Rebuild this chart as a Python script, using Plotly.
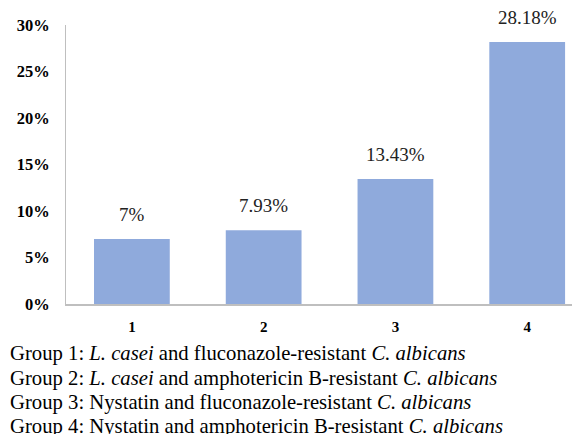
import plotly.graph_objects as go

groups = ["1", "2", "3", "4"]
values = [7, 7.93, 13.43, 28.18]
y_ticks = [0, 5, 10, 15, 20, 25, 30]
caption_lines = [
    "Group 1: <i>L. casei</i> and fluconazole-resistant <i>C. albicans</i>",
    "Group 2: <i>L. casei</i> and amphotericin B-resistant <i>C. albicans</i>",
    "Group 3: Nystatin and fluconazole-resistant <i>C. albicans</i>",
    "Group 4: Nystatin and amphotericin B-resistant <i>C. albicans</i>",
]

SERIF = "Liberation Serif"
W, H = 572, 434
L, R, T, B = 66, 0, 25, 130
plot_w = W - L - R
plot_h = H - T - B

fig = go.Figure(
    go.Bar(
        x=list(range(len(groups))),
        y=values,
        width=0.575,
        marker=dict(color="#8FAADC", line=dict(width=0)),
        hoverinfo="skip",
    )
)

# value labels above bars
for i, v in enumerate(values):
    fig.add_annotation(
        x=i, y=v, xref="x", yref="y",
        text=f"{v:g}%", showarrow=False,
        yanchor="bottom", yshift=12,
        font=dict(family=SERIF, size=19, color="#222222"),
    )

# group description lines under the chart
line_centers = [353, 378, 402.5, 426.5]
for txt, py in zip(caption_lines, line_centers):
    fig.add_annotation(
        x=(8 - L) / plot_w, y=(T + plot_h - py) / plot_h,
        xref="paper", yref="paper",
        text=txt, showarrow=False,
        xanchor="left", yanchor="middle", align="left",
        font=dict(family=SERIF, size=20.7, color="#000000"),
    )

fig.update_layout(
    width=W, height=H,
    margin=dict(l=L, r=R, t=T, b=B, pad=0),
    paper_bgcolor="white", plot_bgcolor="white",
    showlegend=False,
    font=dict(family=SERIF),
)
fig.update_xaxes(
    range=[-0.5, 3.34],
    tickmode="array", tickvals=list(range(len(groups))), ticktext=groups,
    tickfont=dict(family=SERIF, size=15, color="#000000", weight="bold"),
    ticks="outside", ticklen=8, tickcolor="rgba(0,0,0,0)",
    showgrid=False, zeroline=False,
    showline=True, linecolor="#BFBFBF", linewidth=1.5,
)
fig.update_yaxes(
    range=[0, 30],
    tickmode="array", tickvals=y_ticks, ticktext=[f"{t}%" for t in y_ticks],
    tickfont=dict(family=SERIF, size=16.5, color="#000000", weight="bold"),
    ticks="outside", ticklen=12, tickcolor="rgba(0,0,0,0)",
    showgrid=False, zeroline=False,
    showline=True, linecolor="#BFBFBF", linewidth=1,
)

fig.write_html("out.html")
